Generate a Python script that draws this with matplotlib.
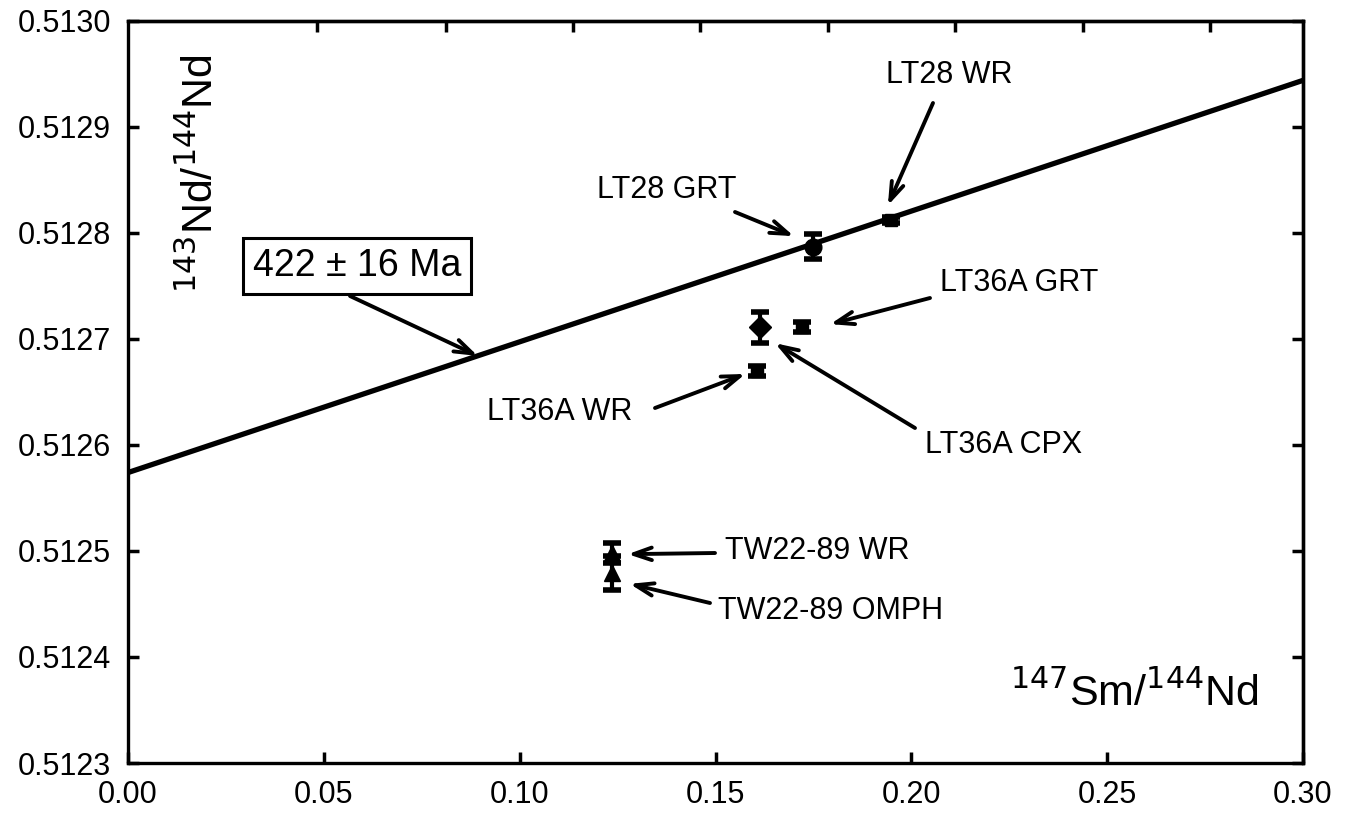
import matplotlib
matplotlib.use('Agg')
import matplotlib.pyplot as plt

plt.rcParams['font.family'] = ['Liberation Sans', 'DejaVu Sans']

# Dados (147Sm/144Nd, 143Nd/144Nd, erro 2s)
amostras = ['LT28 GRT', 'LT28 WR', 'LT36A CPX', 'LT36A GRT', 'LT36A WR', 'TW22-89 WR', 'TW22-89 OMPH']
sm_nd = [0.1749, 0.1948, 0.1614, 0.1721, 0.1606, 0.1236, 0.1236]
nd_nd = [0.512787, 0.512812, 0.512711, 0.512711, 0.512670, 0.512498, 0.512479]
erro = [0.0000118, 0.000003, 0.0000146, 0.0000047, 0.0000047, 0.0000094, 0.000016]
marcadores = ['o', 's', 'D', 's', 's', '^', '^']

# Isócrona
iso_x = [0.0, 0.30]
iso_y = [0.512574, 0.512944]
idade = '422 ± 16 Ma'

x_ticks = [0.00, 0.05, 0.10, 0.15, 0.20, 0.25, 0.30]
y_ticks = [0.5123, 0.5124, 0.5125, 0.5126, 0.5127, 0.5128, 0.5129, 0.5130]

fig = plt.figure(figsize=(13.52, 8.13), dpi=100)
ax = fig.add_axes([0.0947, 0.0615, 0.8691, 0.9127])

ax.plot(iso_x, iso_y, color='black', linewidth=3.8, solid_capstyle='butt', zorder=2)

tam = {'o': 12, 's': 10, 'D': 11, '^': 12}
for xi, yi, ei, m in zip(sm_nd, nd_nd, erro, marcadores):
    ms = tam[m]
    if m == 's' and ei < 0.00001:
        ms = 9
    ax.errorbar(xi, yi, yerr=ei, fmt=m, color='black', markersize=ms,
                elinewidth=3, capsize=6.5, capthick=4, zorder=3)

# Rótulos com setas: texto, canto esquerdo do texto (px), ponta da seta (dados), início da seta (px)
rotulos = [
    ('LT28 WR', (886, 75), (0.1940, 0.512826), (933, 103)),
    ('LT28 GRT', (597, 190), (0.1700, 0.512797), (735, 212)),
    ('LT36A GRT', (940, 283), (0.1793, 0.512714), (930, 298)),
    ('LT36A WR', (487, 412), (0.1576, 0.512667), (655, 408)),
    ('LT36A CPX', (925, 445), (0.1652, 0.512696), (915, 428)),
    ('TW22-89 WR', (725, 551), (0.1276, 0.512497), (715, 553)),
    ('TW22-89 OMPH', (718, 611), (0.1281, 0.512469), (710, 603)),
]

H = 813
seta = dict(arrowstyle='->,head_length=1.3,head_width=0.45',
            color='black', lw=2.8, shrinkA=0, shrinkB=0)
for txt, (tx, ty), tip, (sx, sy) in rotulos:
    ax.text(tx / 1352, 1 - ty / H, txt, transform=fig.transFigure,
            ha='left', va='center', fontsize=22)
    ax.annotate('', xy=tip, xycoords='data',
                xytext=(sx / 1352, 1 - sy / H), textcoords='figure fraction',
                arrowprops=seta)

# Caixa da idade
ax.text(357 / 1352, 1 - 266 / H, idade, transform=fig.transFigure,
        ha='center', va='center', fontsize=27,
        bbox=dict(boxstyle='square,pad=0.27', facecolor='white', edgecolor='black', linewidth=2.2))
ax.annotate('', xy=(0.0893, 0.512684), xycoords='data',
            xytext=(350 / 1352, 1 - 296 / H), textcoords='figure fraction',
            arrowprops=seta)

# Títulos dos eixos dentro da área
ax.text(0.962, 0.094, r'$^{147}$Sm/$^{144}$Nd', transform=ax.transAxes,
        ha='right', va='center', fontsize=31)
ax.text(0.062, 0.795, r'$^{143}$Nd/$^{144}$Nd', transform=ax.transAxes,
        ha='center', va='center', fontsize=31, rotation=90)

ax.set_xlim(0, 0.30)
ax.set_ylim(0.5123, 0.5130)
ax.set_xticks(x_ticks)
ax.set_yticks(y_ticks)
ax.set_xticklabels([f'{v:.2f}' for v in x_ticks], fontsize=22)
ax.set_yticklabels([f'{v:.4f}' for v in y_ticks], fontsize=22)
ax.tick_params(direction='in', length=8, width=2.5, pad=12)

# Marcas do topo e da direita (sem rótulos)
topo = [0.0483, 0.0812, 0.1136, 0.1460, 0.1787, 0.2111, 0.2438, 0.2762]
ax_top = ax.secondary_xaxis('top')
ax_top.set_xticks(topo)
ax_top.set_xticklabels([])
ax_top.tick_params(direction='in', length=8, width=2.5)
ax_dir = ax.secondary_yaxis('right')
ax_dir.set_yticks(y_ticks)
ax_dir.set_yticklabels([])
ax_dir.tick_params(direction='in', length=8, width=2.5)

for s in list(ax.spines.values()) + list(ax_top.spines.values()) + list(ax_dir.spines.values()):
    s.set_linewidth(2.4)

fig.savefig('out.png', dpi=100)
